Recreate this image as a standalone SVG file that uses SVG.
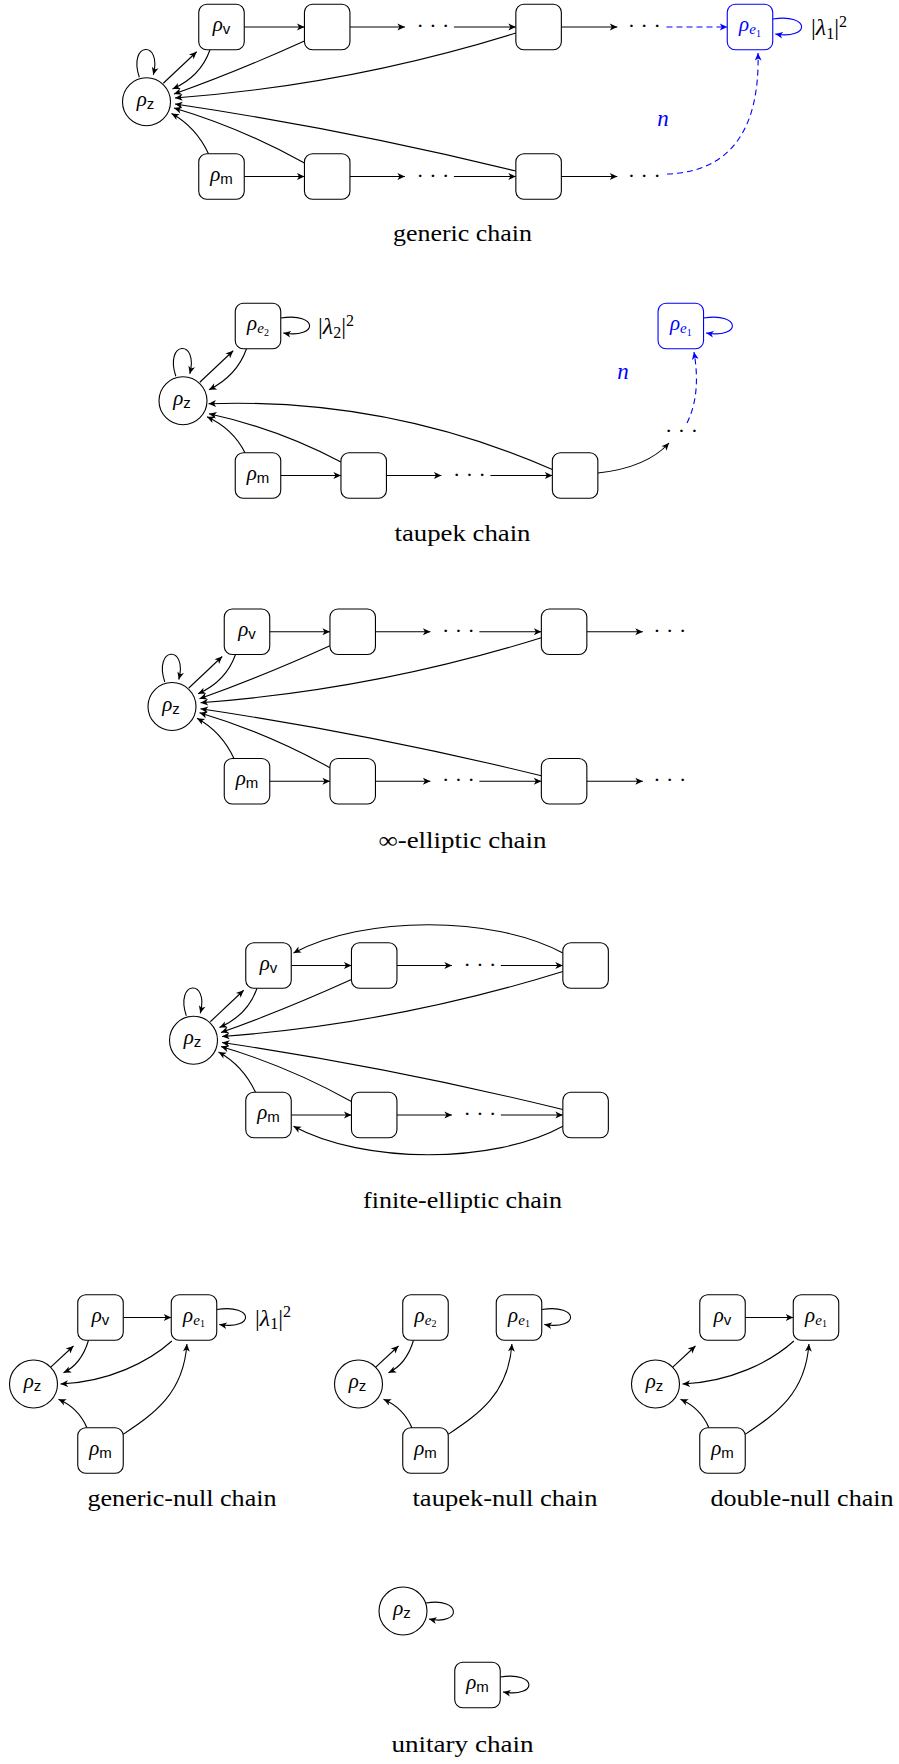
<svg xmlns="http://www.w3.org/2000/svg" width="899" height="1764" viewBox="0 0 899 1764">
<style>
.bx{fill:#fff;stroke:#000;stroke-width:1.1}
.bb{fill:#fff;stroke:#00f;stroke-width:1.1}
.ci{fill:#fff;stroke:#000;stroke-width:1.1}
.e{fill:none;stroke:#000;stroke-width:1.1;marker-end:url(#ah)}
.eb{fill:none;stroke:#00f;stroke-width:1.1;marker-end:url(#ahb)}
.dash{stroke-dasharray:6 4}
.lbl{font-family:"Liberation Serif","DejaVu Serif",serif;text-anchor:middle;fill:#000}
.blue{fill:#00f}
.r{font-style:italic;font-size:21px}
.s{font-family:"Liberation Sans","DejaVu Sans",sans-serif;font-style:normal;font-size:15px}
.ie{font-style:italic;font-size:15px}
.one{font-style:normal;font-size:10px}
.dots{font-family:"Liberation Serif","DejaVu Serif",serif;font-size:22px;text-anchor:middle;fill:#000}
.lam{font-family:"Liberation Serif","DejaVu Serif",serif;font-size:24px;fill:#000}
.cap{font-family:"Liberation Serif","DejaVu Serif",serif;font-size:23px;text-anchor:middle;fill:#000}
.nn{font-family:"Liberation Serif","DejaVu Serif",serif;font-style:italic;font-size:23px;text-anchor:middle;fill:#00f}
</style>
<defs>
<marker id="ah" viewBox="-8 -4 9 8" refX="0" refY="0" markerWidth="9" markerHeight="8" markerUnits="userSpaceOnUse" orient="auto"><path d="M0,0 L-7.5,-3.4 L-5.5,0 L-7.5,3.4 Z" fill="#000"/></marker>
<marker id="ahb" viewBox="-8 -4 9 8" refX="0" refY="0" markerWidth="9" markerHeight="8" markerUnits="userSpaceOnUse" orient="auto"><path d="M0,0 L-7.5,-3.4 L-5.5,0 L-7.5,3.4 Z" fill="#00f"/></marker>
</defs>
<rect width="899" height="1764" fill="#fff"/>

<!-- ============ generic chain ============ -->
<g id="generic" transform="translate(146.5,101.75)">
<g id="generic-connectors">
<path class="e" d="M-7.2,-24.5 C-19,-60 16,-62 6.8,-27"/>
<path class="e" d="M16.8,-18.5 L50.2,-50"/>
<path class="e" d="M63.5,-52 Q54,-25 26,-12.75"/>
<path class="e" d="M157.95,-60.75 Q89.5,-29.75 27.5,-7.75"/>
<path class="e" d="M369.35,-68.75 Q202.5,-16.75 28.5,-3.75"/>
<path class="e" d="M369.35,69.25 Q200.5,27.85 28.5,2.25"/>
<path class="e" d="M157.95,61.25 Q95,26.25 27.5,6.25"/>
<path class="e" d="M62,52 Q49.5,25.25 25,11.75"/>
<path class="e" d="M97.75,-74.75 H157.95"/>
<path class="e" d="M203.45,-74.75 H258.4"/>
<path class="e" d="M307.4,-74.75 H369.35"/>
<path class="e" d="M414.85,-74.75 H470.8"/>
<path class="eb dash" d="M520,-74.75 H580.75"/>
<path class="e" d="M97.75,74.75 H157.95"/>
<path class="e" d="M203.45,74.75 H258.4"/>
<path class="e" d="M307.4,74.75 H369.35"/>
<path class="e" d="M414.85,74.75 H470.8"/>
<path class="eb dash" d="M520.5,72.25 C583.5,70.25 613.5,28.25 611.5,-48.75"/>
<path class="eb" d="M626.25,-82.75 C664.25,-88.75 664.25,-61.75 628.75,-67.75"/>
<text class="lam blue" x="664.5" y="-66.75">|<tspan font-style="italic">λ</tspan><tspan font-size="16" dy="3.5">1</tspan><tspan dy="-3.5">|</tspan><tspan font-size="16" dy="-8.5">2</tspan></text>
<text class="nn" x="516.5" y="24.25">n</text>
</g>
<g id="generic-z"><circle class="ci" cx="0" cy="0" r="24"/><text class="lbl" x="-1" y="4"><tspan class="r">ρ</tspan><tspan class="s" dy="3">z</tspan></text></g>
<g id="generic-v"><rect class="bx" x="52.25" y="-97.5" width="45.5" height="45.5" rx="8"/><text class="lbl" x="75" y="-70.75"><tspan class="r">ρ</tspan><tspan class="s" dy="3">v</tspan></text></g>
<g id="generic-a1"><rect class="bx" x="157.95" y="-97.5" width="45.5" height="45.5" rx="8"/></g>
<g id="generic-a2"><text class="dots" x="286.4" y="-68.75">· · ·</text></g>
<g id="generic-a3"><rect class="bx" x="369.35" y="-97.5" width="45.5" height="45.5" rx="8"/></g>
<g id="generic-a4"><text class="dots" x="497.8" y="-68.75">· · ·</text></g>
<g id="generic-e1"><rect class="bb" x="580.75" y="-97.5" width="45.5" height="45.5" rx="8"/><text class="lbl blue" x="603.5" y="-70.75"><tspan class="r">ρ</tspan><tspan class="ie" dy="3">e</tspan><tspan class="one" dy="2.5">1</tspan></text></g>
<g id="generic-m"><rect class="bx" x="52.25" y="52" width="45.5" height="45.5" rx="8"/><text class="lbl" x="75" y="78.75"><tspan class="r">ρ</tspan><tspan class="s" dy="3">m</tspan></text></g>
<g id="generic-b1"><rect class="bx" x="157.95" y="52" width="45.5" height="45.5" rx="8"/></g>
<g id="generic-b2"><text class="dots" x="286.4" y="80.75">· · ·</text></g>
<g id="generic-b3"><rect class="bx" x="369.35" y="52" width="45.5" height="45.5" rx="8"/></g>
<g id="generic-b4"><text class="dots" x="497.8" y="80.75">· · ·</text></g>
</g>
<text class="cap" x="462.5" y="241" textLength="139" lengthAdjust="spacingAndGlyphs">generic chain</text>

<!-- ============ taupek chain ============ -->
<g id="taupek" transform="translate(183,400.75)">
<g id="taupek-connectors">
<path class="e" d="M-7.2,-24.5 C-19,-60 16,-62 6.8,-27"/>
<path class="e" d="M16.8,-18.5 L50.2,-50"/>
<path class="e" d="M63.5,-52 Q54,-25 26,-11"/>
<path class="e" d="M369.35,68.75 Q204.5,-3.3 25.5,3"/>
<path class="e" d="M157.95,61.25 Q95,28 26,13"/>
<path class="e" d="M62,52 Q50,28 24,16"/>
<path class="e" d="M97.75,74.75 H157.95"/>
<path class="e" d="M203.45,74.75 H258.4"/>
<path class="e" d="M307.4,74.75 H369.35"/>
<path class="e" d="M414.85,72.25 C445,69 470,60 486,42.25"/>
<path class="eb dash" d="M504,22.25 C515,0 515,-25 511,-48.75"/>
<path class="e" d="M97.75,-82.75 C135.75,-88.75 135.75,-61.75 100.25,-67.75"/>
<path class="eb" d="M520.55,-82.75 C558.55,-88.75 558.55,-61.75 523.05,-67.75"/>
<text class="lam" x="135" y="-66.75">|<tspan font-style="italic">λ</tspan><tspan font-size="16" dy="3.5">2</tspan><tspan dy="-3.5">|</tspan><tspan font-size="16" dy="-8.5">2</tspan></text>
<text class="nn" x="440" y="-21.75">n</text>
</g>
<g id="taupek-z"><circle class="ci" cx="0" cy="0" r="24"/><text class="lbl" x="-1" y="4"><tspan class="r">ρ</tspan><tspan class="s" dy="3">z</tspan></text></g>
<g id="taupek-e2"><rect class="bx" x="52.25" y="-97.5" width="45.5" height="45.5" rx="8"/><text class="lbl" x="75" y="-70.75"><tspan class="r">ρ</tspan><tspan class="ie" dy="3">e</tspan><tspan class="one" dy="2.5">2</tspan></text></g>
<g id="taupek-e1"><rect class="bb" x="475.05" y="-97.5" width="45.5" height="45.5" rx="8"/><text class="lbl blue" x="497.8" y="-70.75"><tspan class="r">ρ</tspan><tspan class="ie" dy="3">e</tspan><tspan class="one" dy="2.5">1</tspan></text></g>
<g id="taupek-m"><rect class="bx" x="52.25" y="52" width="45.5" height="45.5" rx="8"/><text class="lbl" x="75" y="78.75"><tspan class="r">ρ</tspan><tspan class="s" dy="3">m</tspan></text></g>
<g id="taupek-b1"><rect class="bx" x="157.95" y="52" width="45.5" height="45.5" rx="8"/></g>
<g id="taupek-b2"><text class="dots" x="286.4" y="80.75">· · ·</text></g>
<g id="taupek-b3"><rect class="bx" x="369.35" y="52" width="45.5" height="45.5" rx="8"/></g>
<g id="taupek-b4"><text class="dots" x="498.5" y="37.25">· · ·</text></g>
</g>
<text class="cap" x="462.5" y="541" textLength="136" lengthAdjust="spacingAndGlyphs">taupek chain</text>

<!-- ============ infinite-elliptic chain ============ -->
<g id="inf" transform="translate(172,706.5)">
<g id="inf-connectors">
<path class="e" d="M-7.2,-24.5 C-19,-60 16,-62 6.8,-27"/>
<path class="e" d="M16.8,-18.5 L50.2,-50"/>
<path class="e" d="M63.5,-52 Q54,-25 26,-12.75"/>
<path class="e" d="M157.95,-60.75 Q89.5,-29.75 27.5,-7.75"/>
<path class="e" d="M369.35,-68.75 Q202.5,-16.75 28.5,-3.75"/>
<path class="e" d="M369.35,69.25 Q200.5,27.85 28.5,2.25"/>
<path class="e" d="M157.95,61.25 Q95,26.25 27.5,6.25"/>
<path class="e" d="M62,52 Q49.5,25.25 25,11.75"/>
<path class="e" d="M97.75,-74.75 H157.95"/>
<path class="e" d="M203.45,-74.75 H258.4"/>
<path class="e" d="M307.4,-74.75 H369.35"/>
<path class="e" d="M414.85,-74.75 H470.8"/>
<path class="e" d="M97.75,74.75 H157.95"/>
<path class="e" d="M203.45,74.75 H258.4"/>
<path class="e" d="M307.4,74.75 H369.35"/>
<path class="e" d="M414.85,74.75 H470.8"/>
</g>
<g id="inf-z"><circle class="ci" cx="0" cy="0" r="24"/><text class="lbl" x="-1" y="4"><tspan class="r">ρ</tspan><tspan class="s" dy="3">z</tspan></text></g>
<g id="inf-v"><rect class="bx" x="52.25" y="-97.5" width="45.5" height="45.5" rx="8"/><text class="lbl" x="75" y="-70.75"><tspan class="r">ρ</tspan><tspan class="s" dy="3">v</tspan></text></g>
<g id="inf-a1"><rect class="bx" x="157.95" y="-97.5" width="45.5" height="45.5" rx="8"/></g>
<g id="inf-a2"><text class="dots" x="286.4" y="-68.75">· · ·</text></g>
<g id="inf-a3"><rect class="bx" x="369.35" y="-97.5" width="45.5" height="45.5" rx="8"/></g>
<g id="inf-a4"><text class="dots" x="497.8" y="-68.75">· · ·</text></g>
<g id="inf-m"><rect class="bx" x="52.25" y="52" width="45.5" height="45.5" rx="8"/><text class="lbl" x="75" y="78.75"><tspan class="r">ρ</tspan><tspan class="s" dy="3">m</tspan></text></g>
<g id="inf-b1"><rect class="bx" x="157.95" y="52" width="45.5" height="45.5" rx="8"/></g>
<g id="inf-b2"><text class="dots" x="286.4" y="80.75">· · ·</text></g>
<g id="inf-b3"><rect class="bx" x="369.35" y="52" width="45.5" height="45.5" rx="8"/></g>
<g id="inf-b4"><text class="dots" x="497.8" y="80.75">· · ·</text></g>
</g>
<text class="cap" x="462.5" y="848" textLength="168" lengthAdjust="spacingAndGlyphs">∞-elliptic chain</text>

<!-- ============ finite-elliptic chain ============ -->
<g id="finite" transform="translate(193.5,1040.25)">
<g id="finite-connectors">
<path class="e" d="M-7.2,-24.5 C-19,-60 16,-62 6.8,-27"/>
<path class="e" d="M16.8,-18.5 L50.2,-50"/>
<path class="e" d="M63.5,-52 Q54,-25 26,-12.75"/>
<path class="e" d="M157.95,-60.75 Q89.5,-29.75 27.5,-7.75"/>
<path class="e" d="M369.35,-68.75 Q202.5,-16.75 28.5,-3.75"/>
<path class="e" d="M369.35,69.25 Q200.5,27.85 28.5,2.25"/>
<path class="e" d="M157.95,61.25 Q95,26.25 27.5,6.25"/>
<path class="e" d="M62,52 Q49.5,25.25 25,11.75"/>
<path class="e" d="M97.75,-74.75 H157.95"/>
<path class="e" d="M203.45,-74.75 H258.4"/>
<path class="e" d="M307.4,-74.75 H369.35"/>
<path class="e" d="M97.75,74.75 H157.95"/>
<path class="e" d="M203.45,74.75 H258.4"/>
<path class="e" d="M307.4,74.75 H369.35"/>
<path class="e" d="M369.35,-87.25 C300,-125 170,-125 100,-87.25"/>
<path class="e" d="M369.35,86 C300,124 170,124 100,86"/>
</g>
<g id="finite-z"><circle class="ci" cx="0" cy="0" r="24"/><text class="lbl" x="-1" y="4"><tspan class="r">ρ</tspan><tspan class="s" dy="3">z</tspan></text></g>
<g id="finite-v"><rect class="bx" x="52.25" y="-97.5" width="45.5" height="45.5" rx="8"/><text class="lbl" x="75" y="-70.75"><tspan class="r">ρ</tspan><tspan class="s" dy="3">v</tspan></text></g>
<g id="finite-a1"><rect class="bx" x="157.95" y="-97.5" width="45.5" height="45.5" rx="8"/></g>
<g id="finite-a2"><text class="dots" x="286.4" y="-68.75">· · ·</text></g>
<g id="finite-a3"><rect class="bx" x="369.35" y="-97.5" width="45.5" height="45.5" rx="8"/></g>
<g id="finite-m"><rect class="bx" x="52.25" y="52" width="45.5" height="45.5" rx="8"/><text class="lbl" x="75" y="78.75"><tspan class="r">ρ</tspan><tspan class="s" dy="3">m</tspan></text></g>
<g id="finite-b1"><rect class="bx" x="157.95" y="52" width="45.5" height="45.5" rx="8"/></g>
<g id="finite-b2"><text class="dots" x="286.4" y="80.75">· · ·</text></g>
<g id="finite-b3"><rect class="bx" x="369.35" y="52" width="45.5" height="45.5" rx="8"/></g>
</g>
<text class="cap" x="462.5" y="1208" textLength="199" lengthAdjust="spacingAndGlyphs">finite-elliptic chain</text>

<!-- ============ generic-null chain ============ -->
<g id="gnull" transform="translate(33.5,1384)">
<g id="gnull-connectors">
<path class="e" d="M16.7,-16.3 L40,-38"/>
<path class="e" d="M55,-43.75 Q48,-20 30,-11.3"/>
<path class="e" d="M89.75,-66.5 H137.75"/>
<path class="e" d="M138.4,-43 C115,-22 75,-2 27,0"/>
<path class="e" d="M53.4,43.75 Q45,24 25,15.3"/>
<path class="e" d="M89.75,50.3 C120,30 150,10 153.4,-40"/>
<path class="e" d="M183.25,-74.5 C221.25,-80.5 221.25,-53.5 185.75,-59.5"/>
<text class="lam" x="221.5" y="-58.5">|<tspan font-style="italic">λ</tspan><tspan font-size="16" dy="3.5">1</tspan><tspan dy="-3.5">|</tspan><tspan font-size="16" dy="-8.5">2</tspan></text>
</g>
<g id="gnull-z"><circle class="ci" cx="0" cy="0" r="24"/><text class="lbl" x="-1" y="4"><tspan class="r">ρ</tspan><tspan class="s" dy="3">z</tspan></text></g>
<g id="gnull-v"><rect class="bx" x="44.25" y="-89.25" width="45.5" height="45.5" rx="8"/><text class="lbl" x="67" y="-62.5"><tspan class="r">ρ</tspan><tspan class="s" dy="3">v</tspan></text></g>
<g id="gnull-e1"><rect class="bx" x="137.75" y="-89.25" width="45.5" height="45.5" rx="8"/><text class="lbl" x="160.5" y="-62.5"><tspan class="r">ρ</tspan><tspan class="ie" dy="3">e</tspan><tspan class="one" dy="2.5">1</tspan></text></g>
<g id="gnull-m"><rect class="bx" x="44.25" y="43.75" width="45.5" height="45.5" rx="8"/><text class="lbl" x="67" y="70.5"><tspan class="r">ρ</tspan><tspan class="s" dy="3">m</tspan></text></g>
</g>
<text class="cap" x="182" y="1506" textLength="189" lengthAdjust="spacingAndGlyphs">generic-null chain</text>

<!-- ============ taupek-null chain ============ -->
<g id="tnull" transform="translate(358.5,1384)">
<g id="tnull-connectors">
<path class="e" d="M16.7,-16.3 L40,-38"/>
<path class="e" d="M55,-43.75 Q48,-20 30,-11.3"/>
<path class="e" d="M53.4,43.75 Q45,24 25,15.3"/>
<path class="e" d="M89.75,50.3 C120,30 150,10 153.4,-40"/>
<path class="e" d="M183.25,-74.5 C221.25,-80.5 221.25,-53.5 185.75,-59.5"/>
</g>
<g id="tnull-z"><circle class="ci" cx="0" cy="0" r="24"/><text class="lbl" x="-1" y="4"><tspan class="r">ρ</tspan><tspan class="s" dy="3">z</tspan></text></g>
<g id="tnull-e2"><rect class="bx" x="44.25" y="-89.25" width="45.5" height="45.5" rx="8"/><text class="lbl" x="67" y="-62.5"><tspan class="r">ρ</tspan><tspan class="ie" dy="3">e</tspan><tspan class="one" dy="2.5">2</tspan></text></g>
<g id="tnull-e1"><rect class="bx" x="137.75" y="-89.25" width="45.5" height="45.5" rx="8"/><text class="lbl" x="160.5" y="-62.5"><tspan class="r">ρ</tspan><tspan class="ie" dy="3">e</tspan><tspan class="one" dy="2.5">1</tspan></text></g>
<g id="tnull-m"><rect class="bx" x="44.25" y="43.75" width="45.5" height="45.5" rx="8"/><text class="lbl" x="67" y="70.5"><tspan class="r">ρ</tspan><tspan class="s" dy="3">m</tspan></text></g>
</g>
<text class="cap" x="505" y="1506" textLength="185" lengthAdjust="spacingAndGlyphs">taupek-null chain</text>

<!-- ============ double-null chain ============ -->
<g id="dnull" transform="translate(655.5,1384)">
<g id="dnull-connectors">
<path class="e" d="M16.7,-16.3 L40,-38"/>
<path class="e" d="M89.75,-66.5 H137.75"/>
<path class="e" d="M138.4,-43 C115,-22 75,-2 27,0"/>
<path class="e" d="M53.4,43.75 Q45,24 25,15.3"/>
<path class="e" d="M89.75,50.3 C120,30 150,10 153.4,-40"/>
</g>
<g id="dnull-z"><circle class="ci" cx="0" cy="0" r="24"/><text class="lbl" x="-1" y="4"><tspan class="r">ρ</tspan><tspan class="s" dy="3">z</tspan></text></g>
<g id="dnull-v"><rect class="bx" x="44.25" y="-89.25" width="45.5" height="45.5" rx="8"/><text class="lbl" x="67" y="-62.5"><tspan class="r">ρ</tspan><tspan class="s" dy="3">v</tspan></text></g>
<g id="dnull-e1"><rect class="bx" x="137.75" y="-89.25" width="45.5" height="45.5" rx="8"/><text class="lbl" x="160.5" y="-62.5"><tspan class="r">ρ</tspan><tspan class="ie" dy="3">e</tspan><tspan class="one" dy="2.5">1</tspan></text></g>
<g id="dnull-m"><rect class="bx" x="44.25" y="43.75" width="45.5" height="45.5" rx="8"/><text class="lbl" x="67" y="70.5"><tspan class="r">ρ</tspan><tspan class="s" dy="3">m</tspan></text></g>
</g>
<text class="cap" x="802" y="1506" textLength="183" lengthAdjust="spacingAndGlyphs">double-null chain</text>

<!-- ============ unitary chain ============ -->
<g id="unitary">
<g id="unitary-connectors">
<path class="e" d="M426,1603 C462,1597 462,1626 429,1619"/>
<path class="e" d="M500.25,1677 C538,1671 538,1698 503,1692"/>
</g>
<g id="unitary-z"><circle class="ci" cx="403" cy="1611" r="24"/><text class="lbl" x="402" y="1615"><tspan class="r">ρ</tspan><tspan class="s" dy="3">z</tspan></text></g>
<g id="unitary-m"><rect class="bx" x="454.75" y="1662.25" width="45.5" height="45.5" rx="8"/><text class="lbl" x="477.5" y="1689"><tspan class="r">ρ</tspan><tspan class="s" dy="3">m</tspan></text></g>
</g>
<text class="cap" x="462.5" y="1752" textLength="142" lengthAdjust="spacingAndGlyphs">unitary chain</text>
</svg>
